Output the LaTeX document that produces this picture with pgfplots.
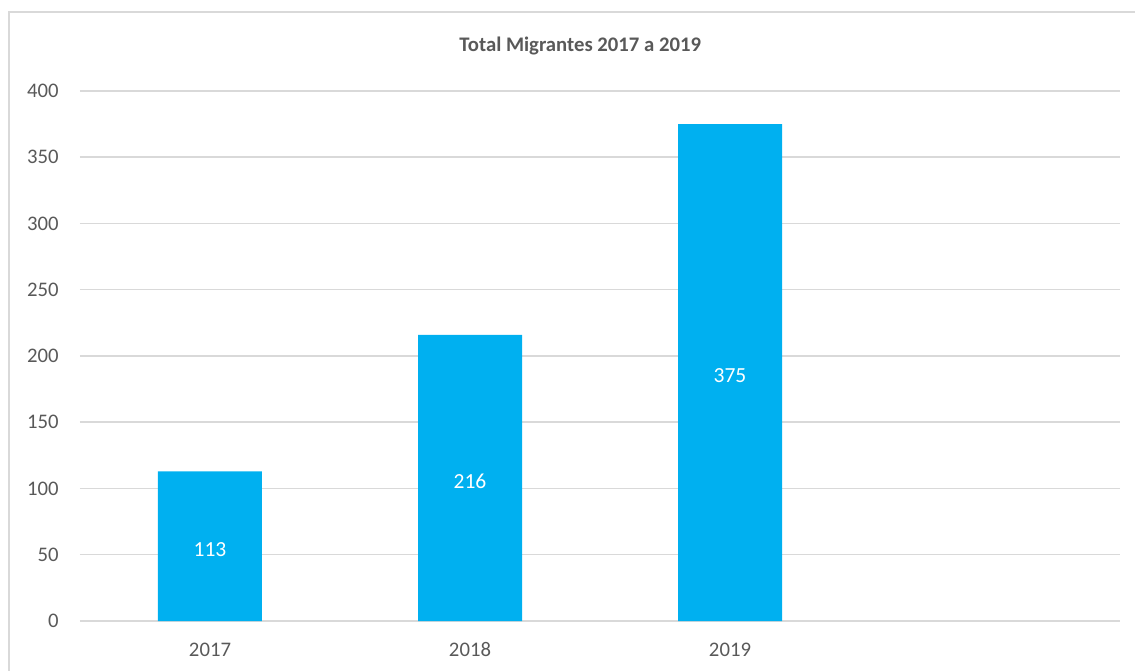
\documentclass[border=0pt]{standalone}
\usepackage{fontspec}
\setmainfont{Carlito}
\usepackage{pgfplots}
\pgfplotsset{compat=1.18}
\definecolor{barblue}{HTML}{00B0F0}
\definecolor{gridgray}{HTML}{D9D9D9}
\definecolor{txtgray}{HTML}{595959}
\begin{document}
\begin{tikzpicture}
\useasboundingbox (-40bp,-25bp) rectangle (527.5bp,310.5bp);
\draw[gridgray, line width=0.75bp] (-35.5bp,-30bp) -- (-35.5bp,304.5bp) -- (535bp,304.5bp);
\begin{axis}[
    at={(0,0)}, anchor=south west,
    scale only axis,
    width=520bp, height=265bp,
    xmin=-0.5, xmax=3.5,
    ymin=0, ymax=400,
    xtick={0,1,2},
    xticklabels={2017,2018,2019},
    ytick={0,50,...,400},
    major tick length=0pt,
    axis line style={draw=none},
    ymajorgrids,
    grid style={gridgray, line width=0.75bp},
    ticklabel style={font=\fontsize{10.4}{12}\selectfont, text=txtgray},
    /pgf/number format/assume math mode=true,
    yticklabel style={inner sep=0pt, anchor=east, xshift=-10.5bp},
    xticklabel style={inner sep=0pt, anchor=base, yshift=-17.5bp},
    clip=false,
]
\addplot[ybar, bar width=0.4, fill=barblue, draw=none,
    visualization depends on=y \as \rawy,
    nodes near coords,
    every node near coord/.append style={anchor=center, text=white,
        font=\fontsize{10.8}{12}\selectfont, yshift={-0.3325*\rawy-1.5}},
] coordinates {(0,113) (1,216) (2,375)};
\node[font=\bfseries\fontsize{10.4}{12}\selectfont, text=txtgray] at (rel axis cs:0.481,0) [yshift=287.5bp] {Total Migrantes 2017 a 2019};
\end{axis}
\end{tikzpicture}
\end{document}
